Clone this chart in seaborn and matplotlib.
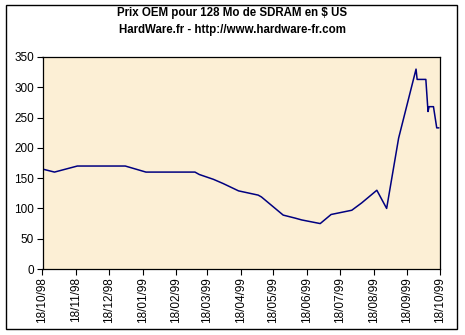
import matplotlib
matplotlib.use("Agg")
import matplotlib.pyplot as plt
import matplotlib.dates as mdates
from matplotlib.patches import Rectangle
import seaborn as sns
import pandas as pd

dates = ["1998-10-18", "1998-10-29", "1998-11-19", "1999-01-02", "1999-01-21",
         "1999-03-07", "1999-03-11", "1999-03-24", "1999-04-02", "1999-04-16",
         "1999-05-04", "1999-05-07", "1999-05-27", "1999-06-07", "1999-06-13",
         "1999-06-30", "1999-07-10", "1999-07-29", "1999-08-07", "1999-08-21",
         "1999-08-30", "1999-09-10", "1999-09-26", "1999-09-27", "1999-10-05",
         "1999-10-07", "1999-10-08", "1999-10-12", "1999-10-15", "1999-10-17"]
prices = [165, 160, 170, 170, 160,
          160, 156, 148, 141, 129,
          122, 119, 89, 84, 81,
          75, 90, 97, 109, 130,
          100, 216, 330, 313, 313,
          260, 268, 268, 233, 233]
title_lines = ["Prix OEM pour 128 Mo de SDRAM en $ US",
               "HardWare.fr - http://www.hardware-fr.com"]
y_ticks = [0, 50, 100, 150, 200, 250, 300, 350]

df = pd.DataFrame({"date": pd.to_datetime(dates), "prix": prices})

sns.set_style("ticks")
plt.rcParams["font.family"] = ["Liberation Sans", "DejaVu Sans"]
plt.rcParams["text.color"] = "black"

fig = plt.figure(figsize=(4.65, 3.35), dpi=100)
fig.patch.set_facecolor("white")
ax = fig.add_axes([42.5 / 465, 1 - 269 / 335, (440 - 42.5) / 465, (269 - 57) / 335])
ax.set_facecolor("#FCEFD5")

sns.lineplot(data=df, x="date", y="prix", ax=ax, color="#000080", linewidth=1.1)

ax.set_xlim(pd.Timestamp("1998-10-18"), pd.Timestamp("1999-10-18"))
ax.set_ylim(0, 350)
ax.set_yticks(y_ticks)
ax.xaxis.set_major_locator(mdates.MonthLocator(bymonthday=18))
ax.xaxis.set_major_formatter(mdates.DateFormatter("%d/%m/%y"))
ax.tick_params(axis="x", rotation=90, labelsize=8.5, length=4, width=0.8,
               colors="black", labelcolor="black", pad=2)
ax.tick_params(axis="y", labelsize=8.5, length=4, width=0.8,
               colors="black", labelcolor="black", pad=2)
ax.set_xlabel("")
ax.set_ylabel("")
for s in ax.spines.values():
    s.set_color("black")
    s.set_linewidth(0.9)

fig.text(232 / 465, 1 - 13 / 335, title_lines[0], ha="center", va="center",
         fontsize=8.3, fontweight="bold", color="black")
fig.text(232 / 465, 1 - 30 / 335, title_lines[1], ha="center", va="center",
         fontsize=8.3, fontweight="bold", color="black")

fig.patches.append(Rectangle((6 / 465, 1 - 329 / 335), 451 / 465, 324 / 335,
                             transform=fig.transFigure, fill=False,
                             edgecolor="black", linewidth=1.0))

fig.savefig("out.png", dpi=100)
